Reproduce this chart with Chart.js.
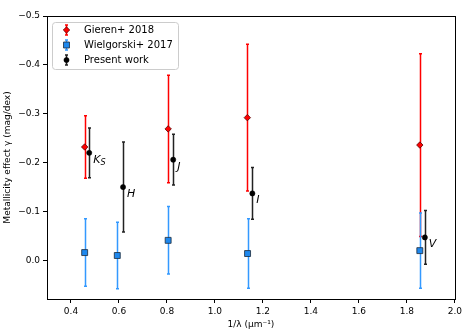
<!DOCTYPE html>
<html lang="en">
<head>
  <meta charset="UTF-8" />
  <title>Metallicity effect</title>
  <script src="https://cdn.jsdelivr.net/npm/chart.js"></script>
  <style>
    body { margin: 0; background: #fff; }
    .wrap { width: 465px; height: 333px; position: relative; }
  </style>
</head>
<body>
  <div class="wrap"><canvas id="gammaChart"></canvas></div>

  <script>
    // values (y = gamma in mag/dex, err = symmetric error)
    const gierenX = [0.457, 0.805, 1.135, 1.854];
    const gierenY = [-0.232, -0.269, -0.292, -0.236];
    const gierenErr = [0.064, 0.110, 0.150, 0.187];

    const wielX = [0.457, 0.593, 0.805, 1.136, 1.854];
    const wielY = [-0.016, -0.010, -0.041, -0.014, -0.020];
    const wielErr = [0.069, 0.068, 0.069, 0.071, 0.077];

    const presentX = [0.476, 0.617, 0.826, 1.156, 1.875];
    const presentY = [-0.220, -0.150, -0.206, -0.137, -0.047];
    const presentErr = [0.051, 0.092, 0.052, 0.053, 0.055];

    const bandNames = ['K', 'H', 'J', 'I', 'V'];
    const bandSubs = ['S', '', '', '', ''];

    const xTicks = [0.4, 0.6, 0.8, 1.0, 1.2, 1.4, 1.6, 1.8, 2.0];
    const yTicks = [-0.5, -0.4, -0.3, -0.2, -0.1, 0.0];

    const FONT = 'DejaVu Sans';
    const RED = '#ff0000', BLUE = '#3399ff', BLACK = '#222222';

    const toPts = (xs, ys) => xs.map((x, i) => ({ x: x, y: ys[i] }));
    const errs = [gierenErr, wielErr, presentErr];
    const errColors = [RED, BLUE, BLACK];

    function drawErr(ctx, xs, ys, e, xScale, yScale, color, lw) {
      ctx.save();
      ctx.strokeStyle = color;
      ctx.lineWidth = lw;
      xs.forEach((x, i) => {
        const px = Math.round(xScale.getPixelForValue(x)) + 0.5;
        const y1 = yScale.getPixelForValue(ys[i] - e[i]);
        const y2 = yScale.getPixelForValue(ys[i] + e[i]);
        ctx.beginPath();
        ctx.moveTo(px, y1); ctx.lineTo(px, y2);
        ctx.moveTo(px - 1.5, y1); ctx.lineTo(px + 1.5, y1);
        ctx.moveTo(px - 1.5, y2); ctx.lineTo(px + 1.5, y2);
        ctx.stroke();
      });
      ctx.restore();
    }

    const extras = {
      id: 'extras',
      beforeDatasetsDraw(chart) {
        const { ctx, chartArea: a } = chart;
        ctx.save();
        ctx.strokeStyle = '#000';
        ctx.lineWidth = 1;
        ctx.strokeRect(Math.round(a.left) + 0.5, Math.round(a.top) + 0.5,
          Math.round(a.right - a.left), Math.round(a.bottom - a.top));
        ctx.restore();
      },
      beforeDatasetDraw(chart, args) {
        const i = args.index;
        const ds = chart.data.datasets[i];
        const xs = ds.data.map(p => p.x), ys = ds.data.map(p => p.y);
        drawErr(chart.ctx, xs, ys, errs[i], chart.scales.x, chart.scales.y, errColors[i], 1.5);
      },
      afterDraw(chart) {
        const { ctx } = chart;
        const xs = chart.scales.x, ys = chart.scales.y;
        // band labels
        ctx.save();
        ctx.fillStyle = '#000';
        ctx.textBaseline = 'middle';
        presentX.forEach((x, i) => {
          const px = xs.getPixelForValue(x) + 4;
          const py = ys.getPixelForValue(presentY[i]) + 7;
          ctx.font = 'italic 11px ' + FONT;
          ctx.fillText(bandNames[i], px, py);
          if (bandSubs[i]) {
            const w = ctx.measureText(bandNames[i]).width;
            ctx.font = 'italic 8px ' + FONT;
            ctx.fillText(bandSubs[i], px + w, py + 3);
          }
        });
        ctx.restore();

        // legend box
        ctx.save();
        ctx.fillStyle = 'rgba(255,255,255,0.85)';
        ctx.strokeStyle = '#cccccc';
        ctx.lineWidth = 1;
        ctx.beginPath();
        ctx.roundRect(52.5, 22.5, 126, 47, 3);
        ctx.fill();
        ctx.stroke();
        const names = ['Gieren+ 2018', 'Wielgorski+ 2017', 'Present work'];
        chart.data.datasets.forEach((ds, i) => {
          const ly = 30 + i * 15;
          const mx = 66.5;
          ctx.strokeStyle = errColors[i];
          ctx.lineWidth = 1.5;
          ctx.beginPath();
          ctx.moveTo(mx, ly - 5); ctx.lineTo(mx, ly + 5);
          ctx.moveTo(mx - 1.5, ly - 5); ctx.lineTo(mx + 1.5, ly - 5);
          ctx.moveTo(mx - 1.5, ly + 5); ctx.lineTo(mx + 1.5, ly + 5);
          ctx.stroke();
          ctx.fillStyle = ds.backgroundColor;
          ctx.strokeStyle = ds.borderColor;
          ctx.lineWidth = ds.borderWidth;
          Chart.helpers.drawPoint(ctx, { pointStyle: ds.pointStyle, radius: ds.pointRadius, borderWidth: ds.borderWidth }, mx, ly);
          ctx.fillStyle = '#000';
          ctx.font = '10px ' + FONT;
          ctx.textBaseline = 'middle';
          ctx.fillText(names[i], 84, ly + 0.5);
        });
        ctx.restore();
      }
    };

    const fmt = v => {
      const s = Math.abs(v).toFixed(1);
      return (v < -1e-9 ? '\u2212' : '') + s;
    };

    new Chart('gammaChart', {
      type: 'scatter',
      data: {
        datasets: [
          {
            label: 'Gieren+ 2018', data: toPts(gierenX, gierenY), order: 3,
            pointStyle: 'rectRot', pointRadius: 3.2, pointHoverRadius: 3.2,
            backgroundColor: RED, borderColor: '#550000', borderWidth: 0.8
          },
          {
            label: 'Wielgorski+ 2017', data: toPts(wielX, wielY), order: 2,
            pointStyle: 'rect', pointRadius: 4.2, pointHoverRadius: 4.2,
            backgroundColor: '#1e88ee', borderColor: '#1a2a3a', borderWidth: 0.8
          },
          {
            label: 'Present work', data: toPts(presentX, presentY), order: 1,
            pointStyle: 'circle', pointRadius: 2.6, pointHoverRadius: 2.6,
            backgroundColor: '#000', borderColor: '#000', borderWidth: 0.5
          }
        ]
      },
      options: {
        responsive: true,
        maintainAspectRatio: false,
        animation: false,
        events: [],
        layout: { padding: { top: 16, right: 9, left: 0, bottom: 0 } },
        plugins: { legend: { display: false }, tooltip: { enabled: false } },
        scales: {
          x: {
            type: 'linear', min: 0.3, max: 2.0,
            afterFit: s => { s.height = 34; },
            afterBuildTicks: s => { s.ticks = xTicks.map(v => ({ value: v })); },
            grid: { display: true, drawOnChartArea: false, drawTicks: true, tickLength: 4, color: '#000' },
            border: { display: false },
            ticks: {
              color: '#000', padding: 3, maxRotation: 0, autoSkip: false,
              font: { family: FONT, size: 9 },
              callback: v => v.toFixed(1)
            },
            title: {
              display: true, text: '1/\u03bb (\u03bcm\u207b\u00b9)', color: '#000',
              font: { family: FONT, size: 9 }, padding: { top: 0, bottom: 3 }
            }
          },
          y: {
            type: 'linear', min: -0.5, max: 0.079, reverse: true,
            afterFit: s => { s.width = 47; },
            afterBuildTicks: s => { s.ticks = yTicks.map(v => ({ value: v })); },
            grid: { display: true, drawOnChartArea: false, drawTicks: true, tickLength: 4, color: '#000' },
            border: { display: false },
            ticks: {
              color: '#000', padding: 3, autoSkip: false,
              font: { family: FONT, size: 9 },
              callback: v => fmt(v)
            },
            title: {
              display: true, text: 'Metallicity effect \u03b3 (mag/dex)', color: '#000',
              font: { family: FONT, size: 9 }, padding: { top: 2, bottom: 0 }
            }
          }
        }
      },
      plugins: [extras]
    });
  </script>
</body>
</html>
